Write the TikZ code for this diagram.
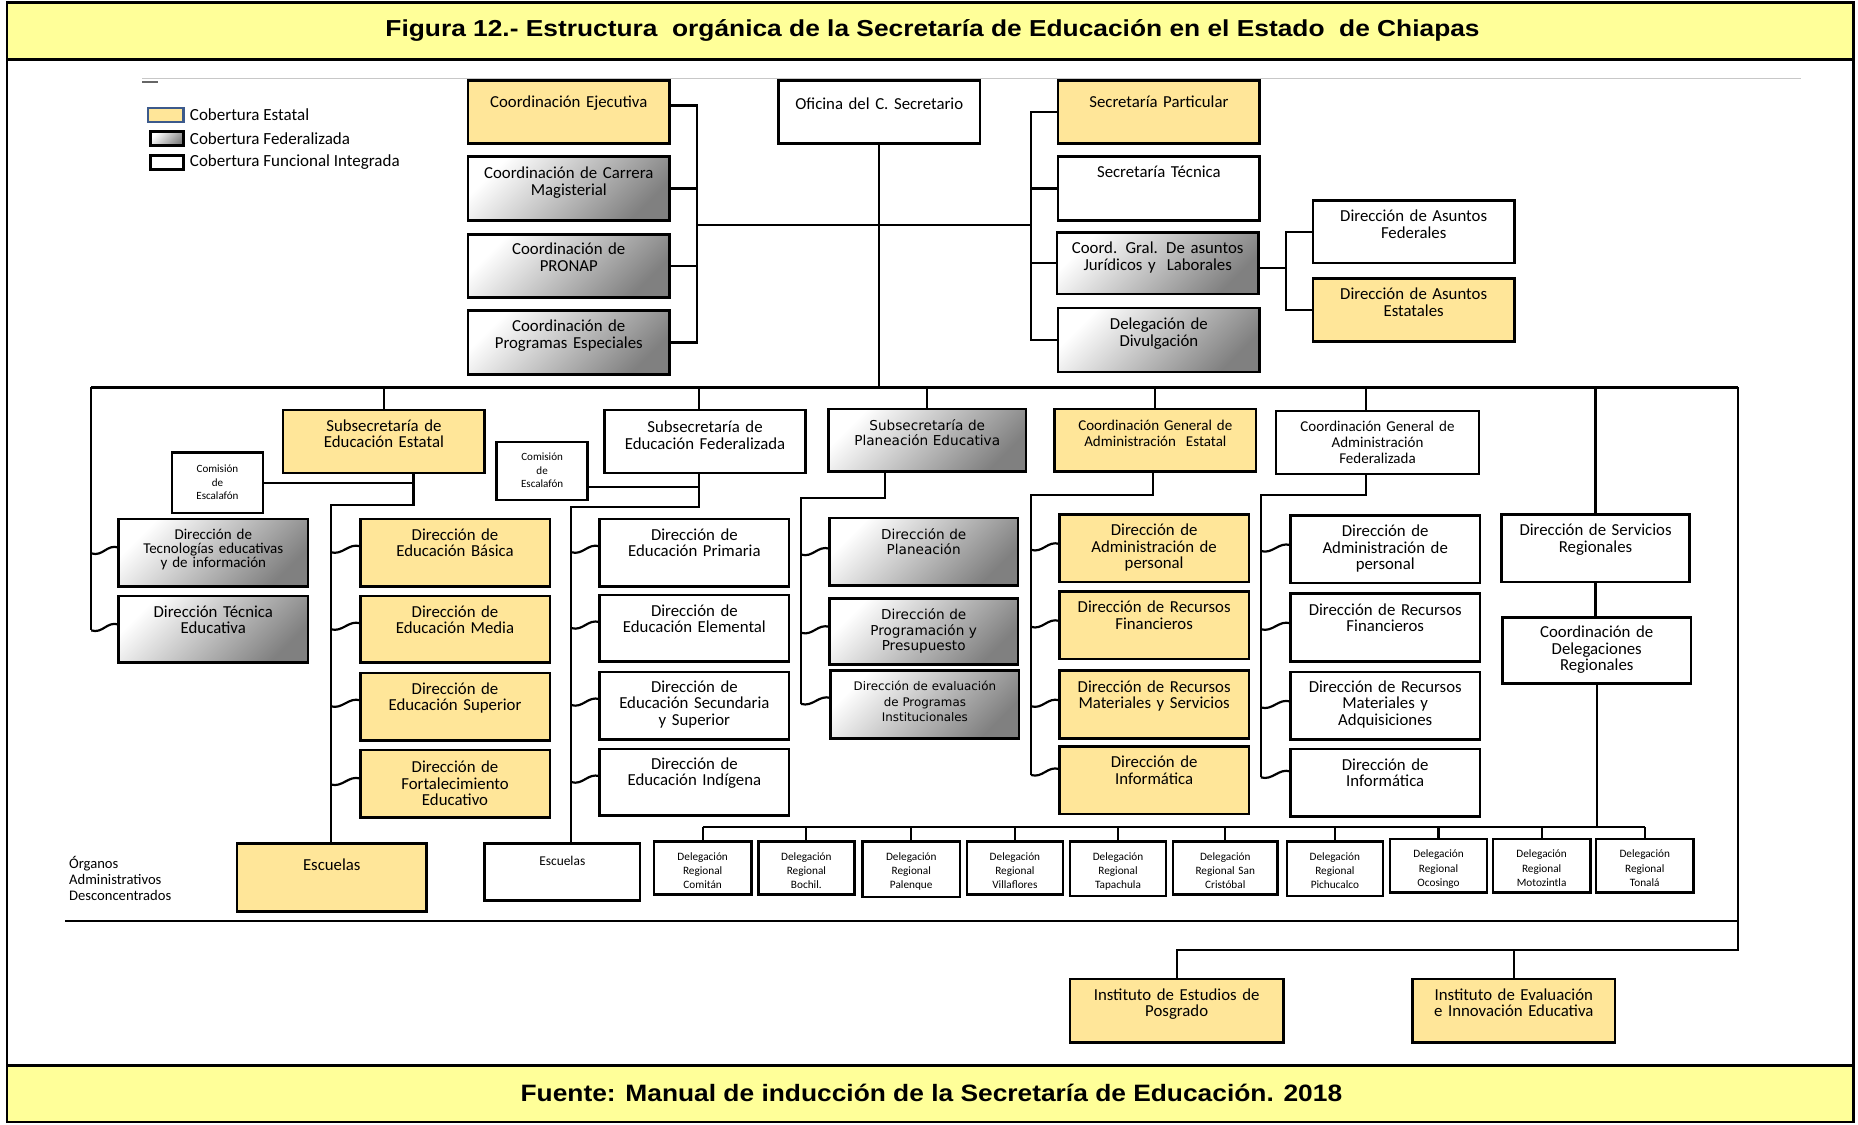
\documentclass[tikz,border=0pt]{standalone}
\usepackage{fontspec}
\usepackage{graphicx}
\setmainfont{Carlito}
\newfontfamily\dejav{DejaVu Sans}
\newfontfamily\lsans{Liberation Sans}
\usetikzlibrary{fit,calc}
\definecolor{yel}{RGB}{255,230,153}
\definecolor{tyel}{RGB}{255,255,153}
\definecolor{legb}{RGB}{60,90,140}
\newcommand\fs[2]{\fontsize{#1}{#2}\selectfont\lineskiplimit=-20pt\relax}
\newcommand\bx[9]{%
  \node[#2, fit={(#4,#5) (#6,#7)}] (#1) {};
  \node[#3] (#1t) at ({(#4+#6)/2},{#8+4}) {#9};
}
\newcommand\wv[3]{%
  \coordinate (#2-e) at ($(#2.north west)+(0,#3)$);
  \path (#2-e -| #1) ++(0,5) coordinate (#2-s);
  \draw[conn] (#2-s) .. controls +(10,3) and +(-10,-3) .. (#2-e);
}
\begin{document}
\begin{tikzpicture}[x=0.6pt,y=-0.6pt,
  obox/.style={draw, line width=1.3pt, inner sep=0pt, outer sep=0pt},
  est/.style={obox, fill=yel},
  fed/.style={obox, top color=white, bottom color=black!50, shading angle=45},
  fun/.style={obox, fill=white},
  conn/.style={line width=1.1pt},
  tx/.style={inner sep=0pt, text width=120pt, align=center, anchor=base, font=\fs{8.5}{8.4}},
  txs/.style={tx, font=\fs{7.6}{7.3}},
  txc/.style={tx, font=\fs{7.6}{8.1}},
  txv/.style={tx, font={\dejav\fs{6.9}{7.9}}},
  txvs/.style={tx, font={\dejav\fs{6.0}{7.8}}},
  txd/.style={tx, font=\fs{5.7}{7.2}},
  txk/.style={tx, font=\fs{5.6}{6.8}},
  txe/.style={tx, font=\fs{6.8}{8}},
  lt/.style={inner sep=0pt, anchor=west, font=\fs{8.6}{9}},
]
\useasboundingbox (0,0) rectangle (1568,949);
\draw[line width=1.3pt, fill=white] (6,2) rectangle (1564,947);
\draw[line width=1.3pt, fill=tyel] (6,2) rectangle (1564,50);
\draw[line width=1.3pt, fill=tyel] (6,899) rectangle (1564,947);
\node[inner sep=0pt] (title) at (787,26) {\resizebox{554pt}{\height}{\lsans\bfseries\fontsize{11.7}{13}\selectfont Figura 12.- Estructura\ \ orgánica de la Secretaría de Educación en el Estado\ \ de Chiapas}};
\node[inner sep=0pt] (foot) at (786,922) {\resizebox{416pt}{\height}{\lsans\bfseries\fontsize{12}{13}\selectfont Fuente: Manual de inducción de la Secretaría de Educación. 2018}};
\draw[black!22, line width=0.7pt] (120,66) -- (1520,66);
\draw[black!60, line width=0.8pt] (120,69) -- (133,69);

% legend
\node[obox, fill=yel, draw=legb, fit={(125,91) (155,103)}] (lg1) {};
\node[fed, fit={(127,111) (155,123)}] (lg2) {};
\node[fun, fit={(127,131) (155,143)}] (lg3) {};
\node[lt] (lg1t) at (160,97) {Cobertura Estatal};
\node[lt] (lg2t) at (160,117) {Cobertura Federalizada};
\node[lt] (lg3t) at (160,137) {Cobertura Funcional Integrada};

% top level
\bx{ce}{est}{tx}{395}{68}{565}{121}{87}{Coordinación Ejecutiva}
\bx{ccm}{fed}{tx}{395}{132}{565}{186}{147}{Coordinación de Carrera\\Magisterial}
\bx{cpr}{fed}{tx}{395}{198}{565}{251}{211}{Coordinación de\\PRONAP}
\bx{cpe}{fed}{tx}{395}{262}{565}{316}{276}{Coordinación de\\Programas Especiales}
\bx{of}{fun}{tx}{657}{68}{827}{121}{88}{Oficina del C. Secretario}
\bx{sp}{est}{tx}{893}{68}{1063}{121}{87}{Secretaría Particular}
\bx{st}{fun}{tx}{893}{132}{1063}{186}{146}{Secretaría Técnica}
\bx{cg}{fed}{tx}{892}{196}{1062}{248}{210}{Coord. Gral. De asuntos\\Jurídicos y\ \ Laborales}
\bx{dd}{fed}{tx}{893}{260}{1063}{314}{274}{Delegación de\\Divulgación}
\bx{daf}{fun}{tx}{1108}{169}{1278}{222}{183}{Dirección de Asuntos\\Federales}
\bx{dae}{est}{tx}{1108}{235}{1278}{288}{249}{Dirección de Asuntos\\Estatales}

% second level
\bx{sse}{est}{tx}{239}{346}{409}{399}{360}{Subsecretaría de\\Educación Estatal}
\bx{ssf}{fun}{tx}{510}{346}{680}{399}{361}{Subsecretaría de\\Educación Federalizada}
\bx{ssp}{fed}{txv}{699}{345}{866}{398}{359}{Subsecretaría de\\Planeación Educativa}
\bx{cgae}{est}{txc}{890}{345}{1060}{398}{359}{Coordinación General de\\Administración\ \ Estatal}
\bx{cgaf}{fun}{txc}{1077}{347}{1248}{400}{360}{Coordinación General de\\Administración\\Federalizada}
\bx{cesc1}{fun}{txk}{145}{382}{222}{433}{395}{Comisión\\de\\Escalafón}
\bx{cesc2}{fun}{txk}{419}{373}{496}{422}{385}{Comisión\\de\\Escalafón}

% left column
\bx{dti}{fed}{txs}{100}{438}{260}{495}{451}{Dirección de\\Tecnologías educativas\\y de información}
\bx{dte}{fed}{tx}{100}{503}{260}{559}{517}{Dirección Técnica\\Educativa}

% estatal
\bx{deb}{est}{tx}{304}{438}{464}{495}{452}{Dirección de\\Educación Básica}
\bx{dem}{est}{tx}{304}{503}{464}{559}{517}{Dirección de\\Educación Media}
\bx{des}{est}{tx}{304}{568}{464}{625}{582}{Dirección de\\Educación Superior}
\bx{dfe}{est}{tx}{304}{633}{464}{690}{648}{Dirección de\\Fortalecimiento\\Educativo}

% federalizada
\bx{dep}{fun}{tx}{506}{438}{666}{495}{452}{Dirección de\\Educación Primaria}
\bx{del}{fun}{tx}{506}{502}{666}{558}{516}{Dirección de\\Educación Elemental}
\bx{dss}{fun}{tx}{506}{567}{666}{624}{580}{Dirección de\\Educación Secundaria\\y Superior}
\bx{dei}{fun}{tx}{506}{632}{666}{688}{645}{Dirección de\\Educación Indígena}

% planeacion
\bx{dpl}{fed}{txv}{700}{437}{859}{494}{451}{Dirección de\\Planeación}
\bx{dpp}{fed}{txv}{700}{505}{859}{561}{519}{Dirección de\\Programación y\\Presupuesto}
\bx{dev}{fed}{txvs}{701}{566}{860}{623}{579}{Dirección de evaluación\\de Programas\\Institucionales}

% admin estatal
\bx{dape}{est}{tx}{894}{434}{1054}{491}{448}{Dirección de\\Administración de\\personal}
\bx{drfe}{est}{tx}{894}{499}{1054}{556}{513}{Dirección de Recursos\\Financieros}
\bx{drme}{est}{tx}{894}{566}{1054}{623}{580}{Dirección de Recursos\\Materiales y Servicios}
\bx{dine}{est}{tx}{894}{630}{1054}{687}{644}{Dirección de\\Informática}

% admin federalizada
\bx{dapf}{fun}{tx}{1089}{435}{1249}{492}{449}{Dirección de\\Administración de\\personal}
\bx{drff}{fun}{tx}{1089}{501}{1249}{558}{515}{Dirección de Recursos\\Financieros}
\bx{drmf}{fun}{tx}{1089}{567}{1249}{624}{580}{Dirección de Recursos\\Materiales y\\Adquisiciones}
\bx{dinf}{fun}{tx}{1089}{632}{1249}{689}{646}{Dirección de\\Informática}

% servicios regionales
\bx{dsr}{fun}{tx}{1267}{434}{1426}{491}{448}{Dirección de Servicios\\Regionales}
\bx{cdr}{fun}{tx}{1268}{521}{1427}{577}{534}{Coordinación de\\Delegaciones\\Regionales}

% escuelas
\bx{esc1}{est}{tx}{200}{712}{360}{769}{731}{Escuelas}
\bx{esc2}{fun}{txe}{409}{712}{540}{760}{726}{Escuelas}
\node[inner sep=0pt, anchor=base west, text width=70pt, align=left, font=\fs{7.4}{8.2}] (oad) at (58,733) {Órganos\\Administrativos\\Desconcentrados};

% delegaciones
\bx{d1}{fun}{txd}{552}{710}{634}{755}{722}{Delegación\\Regional\\Comitán}
\bx{d2}{fun}{txd}{640}{710}{721}{755}{722}{Delegación\\Regional\\Bochil.}
\bx{d3}{fun}{txd}{728}{710}{810}{757}{722}{Delegación\\Regional\\Palenque}
\bx{d4}{fun}{txd}{816}{710}{897}{755}{722}{Delegación\\Regional\\Villaflores}
\bx{d5}{fun}{txd}{903}{710}{984}{756}{722}{Delegación\\Regional\\Tapachula}
\bx{d6}{fun}{txd}{990}{710}{1078}{755}{722}{Delegación\\Regional San\\Cristóbal}
\bx{d7}{fun}{txd}{1086}{710}{1167}{756}{722}{Delegación\\Regional\\Pichucalco}
\bx{d8}{fun}{txd}{1173}{708}{1255}{753}{720}{Delegación\\Regional\\Ocosingo}
\bx{d9}{fun}{txd}{1260}{708}{1342}{753}{720}{Delegación\\Regional\\Motozintla}
\bx{d10}{fun}{txd}{1347}{708}{1429}{753}{720}{Delegación\\Regional\\Tonalá}

% institutos
\bx{iep}{est}{tx}{903}{826}{1083}{880}{840}{Instituto de Estudios de\\Posgrado}
\bx{iie}{est}{tx}{1192}{826}{1363}{880}{840}{Instituto de Evaluación\\e Innovación Educativa}

% ---------- connectors ----------
\coordinate (mL) at (77,327);
\coordinate (mR) at (1467,327);
\coordinate (eA) at (349,426);   \coordinate (busA) at (279,426);
\coordinate (fA) at (590,428);   \coordinate (busB) at (482,428);
\coordinate (pA) at (747,420);   \coordinate (busC) at (676,420);
\coordinate (aA) at (973,418);   \coordinate (busD) at (870,418);
\coordinate (gA) at (1153,418);  \coordinate (busE) at (1064,418);

\wv{mL}{dti}{24}
\wv{mL}{dte}{24}
\wv{busA}{deb}{23}
\wv{busA}{dem}{23}
\wv{busA}{des}{23}
\wv{busA}{dfe}{24}
\wv{busB}{dep}{23}
\wv{busB}{del}{23}
\wv{busB}{dss}{23}
\wv{busB}{dei}{23}
\wv{busC}{dpl}{26}
\wv{busC}{dpp}{24}
\wv{busC}{dev}{23}
\wv{busD}{dape}{25}
\wv{busD}{drfe}{25}
\wv{busD}{drme}{25}
\wv{busD}{dine}{19}
\wv{busE}{dapf}{25}
\wv{busE}{drff}{25}
\wv{busE}{drmf}{25}
\wv{busE}{dinf}{19}

\draw[conn] (mL) -- (mR);
\draw[conn] (mL) -- (dte-s);
\draw[conn] (sse.south -| eA) -- (eA) -- (busA) -- (busA |- esc1.north);
\draw[conn] (cesc1.east) -- (cesc1.east -| eA);
\draw[conn] (ssf.south -| fA) -- (fA) -- (busB) -- (busB |- esc2.north);
\coordinate (c2e) at ($(cesc2.south east)+(0,-11)$);
\draw[conn] (c2e) -- (c2e -| fA);
\draw[conn] (ssp.south -| pA) -- (pA) -- (busC) -- (dev-s);
\draw[conn] (cgae.south -| aA) -- (aA) -- (busD) -- (dine-s);
\draw[conn] (cgaf.south -| gA) -- (gA) -- (busE) -- (dinf-s);

\draw[conn] (sse.north) -- (sse.north |- mL);
\draw[conn] (ssf.north -| fA) -- (fA |- mL);
\draw[conn] (ssp.north) -- (ssp.north |- mL);
\draw[conn] (cgae.north) -- (cgae.north |- mL);
\draw[conn] (cgaf.north -| gA) -- (gA |- mL);
\draw[conn] (dsr.north) -- (dsr.north |- mL);
\draw[conn] (dsr.south) -- (dsr.south |- cdr.north);
\draw[conn] (of.south) -- (of.south |- mL);

% top brackets
\coordinate (bl) at (588,190);
\coordinate (br) at (870,190);
\draw[conn] (bl) -- (br);
\coordinate (ces) at ($(ce.north east)+(0,21)$);
\draw[conn] (ces) -- (ces -| bl) -- (bl |- cpe.east) -- (cpe.east);
\draw[conn] (ccm.east) -- (ccm.east -| bl);
\draw[conn] (cpr.east) -- (cpr.east -| bl);
\draw[conn] (sp.west) -- (sp.west -| br) -- (br |- dd.west) -- (dd.west);
\draw[conn] (st.west) -- (st.west -| br);
\draw[conn] (cg.west) -- (cg.west -| br);
\coordinate (ja) at (1085,226);
\draw[conn] (cg.east |- ja) -- (ja);
\draw[conn] (daf.west) -- (daf.west -| ja) -- (ja |- dae.west) -- (dae.west);

% delegaciones bus
\coordinate (dbus) at (0,698);
\draw[conn] (d1.north |- dbus) -- (d10.north |- dbus);
\foreach \i in {1,...,10} {\draw[conn] (d\i.north) -- (d\i.north |- dbus);}
\draw[conn] (cdr.south) -- (cdr.south |- dbus);

% bottom
\coordinate (rB) at (1467,802);
\draw[conn] (mR) -- (rB) -- (rB -| iep.north) -- (iep.north);
\draw[conn] (rB -| iie.north) -- (iie.north);
\coordinate (hl) at (55,777);
\draw[conn] (hl) -- (hl -| mR);
\end{tikzpicture}
\end{document}
